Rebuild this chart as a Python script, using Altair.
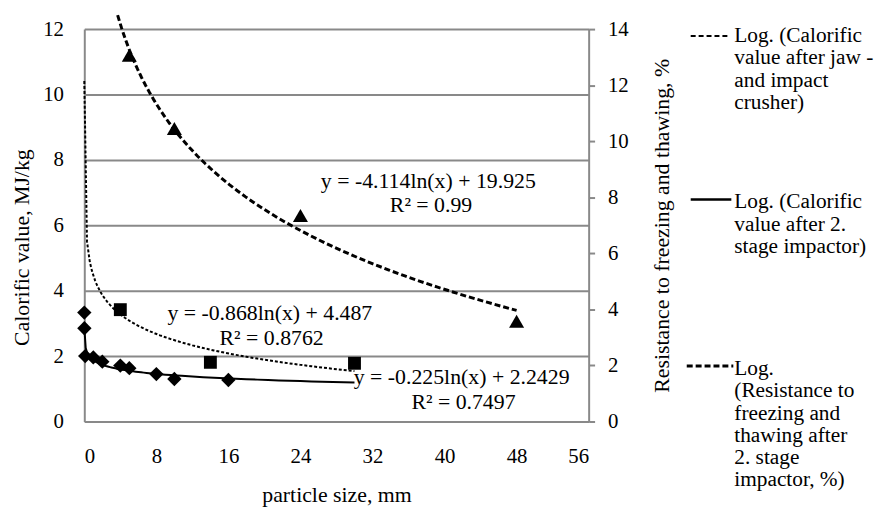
import altair as alt
import pandas as pd

# ---- data ----
# Calorific value after 2. stage impactor (diamonds, left axis)
imp_x = [0.001, 0.01, 0.1, 1, 2, 4, 5, 8, 10, 16]
imp_y = [3.33, 2.85, 2.0, 1.96, 1.83, 1.71, 1.63, 1.45, 1.30, 1.27]
# Calorific value after jaw- and impact crusher (squares, left axis)
jaw_x = [4, 14, 30]
jaw_y = [3.42, 1.81, 1.78]
# Resistance to freezing and thawing after 2. stage impactor (triangles, right axis)
res_x = [5, 10, 24, 48]
res_y = [13.07, 10.45, 7.35, 3.58]

# trendline equations as printed on the chart
eq_text = ["y = -4.114ln(x) + 19.925", "R\u00b2 = 0.99",
           "y = -0.868ln(x) + 4.487", "R\u00b2 = 0.8762",
           "y = -0.225ln(x) + 2.2429", "R\u00b2 = 0.7497"]
eq_x = [38.2, 38.5, 20.6, 20.8, 41.9, 42.1]
eq_y = [7.36, 6.61, 3.33, 2.55, 1.36, 0.58]

x_ticks = [0, 8, 16, 24, 32, 40, 48, 56]
yl_ticks = [0, 2, 4, 6, 8, 10, 12]
yr_ticks = [0, 2, 4, 6, 8, 10, 12, 14]

legend_labels = [
    "Log. (Calorific\nvalue after jaw -\nand impact\ncrusher)",
    "Log. (Calorific\nvalue after 2.\nstage impactor)",
    "Log.\n(Resistance to\nfreezing and\nthawing after\n2. stage\nimpactor, %)",
]

FONT = "'Liberation Serif', 'Times New Roman', Times, 'DejaVu Serif', serif"
FS_TICK = 21
FS_TITLE = 22
FS_TEXT = 22
FS_LEG = 21.5
GRAY = "#898989"

imp = pd.DataFrame({"x": imp_x, "y": imp_y})
jaw = pd.DataFrame({"x": jaw_x, "y": jaw_y})
res = pd.DataFrame({"x": res_x, "y": res_y})
eqs = pd.DataFrame({"x": eq_x, "y": eq_y, "t": eq_text})

x_enc = alt.X("x:Q", scale=alt.Scale(domain=[0, 56], nice=False),
              axis=alt.Axis(values=x_ticks, title="particle size, mm", ticks=False,
                            grid=False, domainColor=GRAY, domainWidth=2,
                            labelPadding=24, titleY=74, titleBaseline="middle"))
yl_enc = alt.Y("y:Q", scale=alt.Scale(domain=[0, 12], nice=False),
               axis=alt.Axis(values=yl_ticks, title="Calorific value, MJ/kg",
                             grid=True, gridColor=GRAY, gridWidth=2, ticks=False,
                             domainColor=GRAY, domainWidth=2, labelPadding=21,
                             titleX=-63, titleY=220, titleAngle=270,
                             titleBaseline="middle", titleAlign="center"))
yr_enc = alt.Y("y:Q", scale=alt.Scale(domain=[0, 14], nice=False),
               axis=alt.Axis(orient="right", values=yr_ticks,
                             title="Resistance to freezing and thawing, %",
                             grid=False, ticks=True, tickSize=6, tickWidth=2,
                             tickColor=GRAY, domainColor=GRAY, domainWidth=2,
                             labelPadding=13, titleX=74, titleY=198, titleAngle=270,
                             titleBaseline="middle", titleAlign="center"))

imp_pts = alt.Chart(imp).mark_point(shape="diamond", filled=True, size=210,
                                    color="black", opacity=1).encode(x=x_enc, y=yl_enc)
jaw_pts = alt.Chart(jaw).mark_point(shape="square", filled=True, size=169,
                                    color="black", opacity=1).encode(x=x_enc, y=yl_enc)
imp_line = alt.Chart(imp).transform_regression(
    "x", "y", method="log", extent=[0.008, 30]
).mark_line(color="black", strokeWidth=2).encode(x=x_enc, y=yl_enc)
jaw_line = alt.Chart(jaw).transform_regression(
    "x", "y", method="log", extent=[0.001, 30]
).mark_line(color="black", strokeWidth=2, strokeDash=[3, 2]).encode(x=x_enc, y=yl_enc)
eq_layer = alt.Chart(eqs).mark_text(font=FONT, fontSize=FS_TEXT, color="black",
                                    align="center", baseline="middle").encode(
    x=x_enc, y=yl_enc, text="t:N")

one = pd.DataFrame({"k": [0]})
leg_line1 = alt.Chart(one).mark_rule(color="black", strokeWidth=2, strokeDash=[5, 3]).encode(
    x=alt.value(612), x2=alt.value(652), y=alt.value(7))
leg_line2 = alt.Chart(one).mark_rule(color="black", strokeWidth=2.5).encode(
    x=alt.value(612), x2=alt.value(653), y=alt.value(172))
leg_line3 = alt.Chart(one).mark_rule(color="black", strokeWidth=3, strokeDash=[6, 3]).encode(
    x=alt.value(608), x2=alt.value(655), y=alt.value(340))


def leg_text(label, ypos):
    return alt.Chart(one).mark_text(font=FONT, fontSize=FS_LEG, color="black", align="left",
                                    baseline="alphabetic", lineBreak="\n",
                                    lineHeight=22.5).encode(
        x=alt.value(656), y=alt.value(ypos), text=alt.value(label))


left = alt.layer(imp_line, jaw_line, imp_pts, jaw_pts, eq_layer,
                 leg_line1, leg_line2, leg_line3,
                 leg_text(legend_labels[0], 13), leg_text(legend_labels[1], 181),
                 leg_text(legend_labels[2], 349))

res_pts = alt.Chart(res).mark_point(shape="triangle-up", filled=True, size=230,
                                    color="black", opacity=1).encode(x=x_enc, y=yr_enc)
res_line = alt.Chart(res).transform_regression(
    "x", "y", method="log", extent=[3.7, 48]
).mark_line(color="black", strokeWidth=3, strokeDash=[6, 3]).encode(x=x_enc, y=yr_enc)
right = alt.layer(res_line, res_pts)

chart = alt.layer(left, right).resolve_scale(y="independent").properties(
    width=509, height=396,
    autosize=alt.AutoSizeParams(type="none"),
    padding={"left": 77, "top": 19, "right": 290, "bottom": 85},
).configure_axis(
    labelFont=FONT, titleFont=FONT, labelFontSize=FS_TICK, titleFontSize=FS_TITLE,
    labelColor="black", titleColor="black", titleFontWeight="normal",
).configure_view(strokeWidth=0)

chart.save("out.html", embed_options={"renderer": "svg", "actions": False})
